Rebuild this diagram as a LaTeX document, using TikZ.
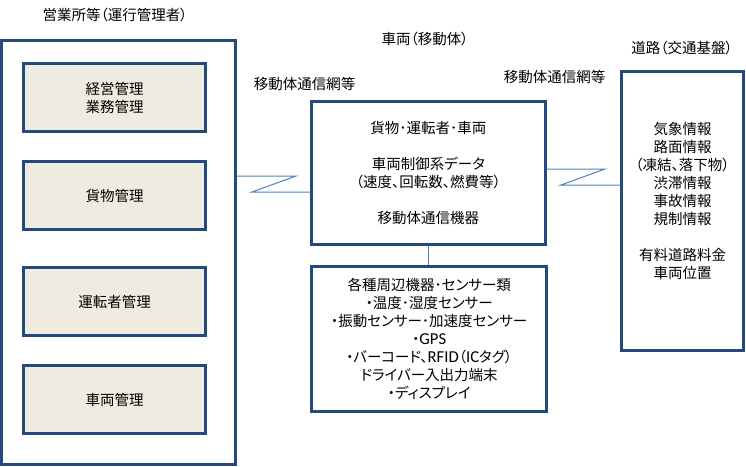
\documentclass[tikz,border=0pt]{standalone}
\usepackage{fontspec}
\setmainfont[RawFeature=+palt]{Noto Sans CJK JP}
\newfontfamily\latinfont[Scale=1.15]{Carlito}
\definecolor{boxblue}{HTML}{244A7D}
\definecolor{linkblue}{HTML}{4F81BD}
\definecolor{boxfill}{HTML}{EEECE1}

\begin{document}
\begin{tikzpicture}[x=1pt, y=-1pt,
  every node/.style={font=\fontsize{14.5}{18}\selectfont},
  box/.style={draw=boxblue, line width=3pt, align=center, inner sep=0pt},
  mgmt/.style={box, fill=boxfill, minimum width=181.6pt, minimum height=67.5pt},
  link/.style={draw=linkblue, line width=1pt}]
  \useasboundingbox (0,0) rectangle (746,466);

  % office side
  \node (officetitle) at (115,15) {営業所等（運行管理者）};
  \node[box, minimum width=234pt, minimum height=423.8pt] (office) at (118.5,252.4) {};
  \node[mgmt] (plan) at (114.5,97.6) {経営管理\\業務管理};
  \node[mgmt] (cargo) at (114.5,195.6) {貨物管理};
  \node[mgmt] (driver) at (114.5,301.6) {運転者管理};
  \node[mgmt] (car) at (114.5,399.6) {車両管理};

  % vehicle
  \node (vehicletitle) at (425,38.5) {車両（移動体）};
  \node (netleft) at (304.5,83.5) {移動体通信網等};
  \node (netright) at (554.5,76.5) {移動体通信網等};
  \node[box, minimum width=233.8pt, minimum height=142.7pt] (vehicle) at (428.4,172.9)
    {貨物･運転者･車両\\[18pt]車両制御系データ\\（速度、回転数、燃費等）\\[18pt]移動体通信機器};
  \node[box, minimum width=235.3pt, minimum height=144.7pt] (devices) at (429.2,339.2)
    {各種周辺機器･センサー類\\・温度･湿度センサー\\・振動センサー･加速度センサー\\・{\latinfont GPS}\\%
     ・バーコード、{\latinfont RFID}（{\latinfont IC}タグ）\\ドライバー入出力端末\\・ディスプレイ};

  % road
  \node (roadtitle) at (682,47.5) {道路（交通基盤）};
  \node[box, minimum width=122.3pt, minimum height=278.7pt] (road) at (682.7,211.2) {};
  \node[align=center] (roadinfo) at (682.5,200.5)
    {気象情報\\路面情報\\（凍結、落下物）\\渋滞情報\\事故情報\\規制情報\\[18pt]有料道路料金\\車両位置};

  % wireless links
  \coordinate (zl1) at (296,176);
  \coordinate (zl2) at (252,192);
  \draw[link] (office.east |- zl1) -- (zl1) -- (zl2) -- (vehicle.west |- zl2);
  \coordinate (zr1) at (605,169);
  \coordinate (zr2) at (561,185);
  \draw[link] (vehicle.east |- zr1) -- (zr1) -- (zr2) -- (road.west |- zr2);
  \draw[link] (vehicle.south) -- (vehicle.south |- devices.north);
\end{tikzpicture}
\end{document}
